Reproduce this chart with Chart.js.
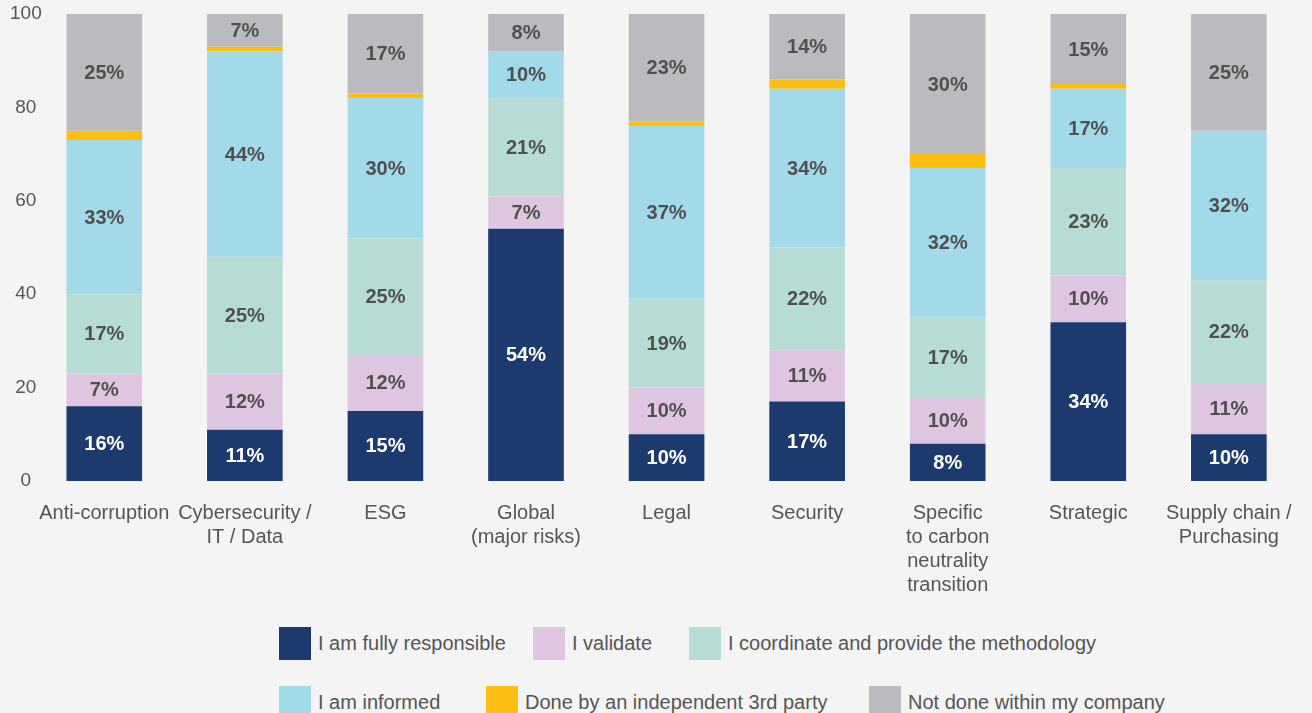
<!DOCTYPE html>
<html><head><meta charset="utf-8">
<script src="https://cdn.jsdelivr.net/npm/chart.js@4.4.1/dist/chart.umd.min.js"></script>
<style>
html,body{margin:0;padding:0;background:#f4f4f4;width:1312px;height:713px;overflow:hidden;font-family:"Liberation Sans",Arial,Helvetica,sans-serif;}
#wrap{position:relative;width:1312px;height:610px;}
#legend{position:relative;width:1312px;height:103px;}
.li{position:absolute;display:flex;align-items:center;height:33px;font-size:20px;color:#555;white-space:nowrap;}
.li .box{width:32px;height:33px;margin-right:7px;flex:none;}
</style></head><body>
<div id="wrap"><canvas id="c" width="1312" height="610"></canvas></div>
<div id="legend"></div>
<script>
const categories = [
  "Anti-corruption",
  ["Cybersecurity /", "IT / Data"],
  "ESG",
  ["Global", "(major risks)"],
  "Legal",
  "Security",
  ["Specific", "to carbon", "neutrality", "transition"],
  "Strategic",
  ["Supply chain /", "Purchasing"]
];
const seriesNames = [
  "I am fully responsible",
  "I validate",
  "I coordinate and provide the methodology",
  "I am informed",
  "Done by an independent 3rd party",
  "Not done within my company"
];
const fullyResponsible = [16, 11, 15, 54, 10, 17, 8, 34, 10];
const validate         = [7, 12, 12, 7, 10, 11, 10, 10, 11];
const coordinate       = [17, 25, 25, 21, 19, 22, 17, 23, 22];
const informed         = [33, 44, 30, 10, 37, 34, 32, 17, 32];
const thirdParty       = [2, 1, 1, 0, 1, 2, 3, 1, 0];
const notDone          = [25, 7, 17, 8, 23, 14, 30, 15, 25];
const yTicks = [0, 20, 40, 60, 80, 100];

const seriesValues = [fullyResponsible, validate, coordinate, informed, thirdParty, notDone];
const colors = ["#1d3a6e", "#dec6e0", "#b6dcd5", "#a2dae9", "#fcbe12", "#bbbbbf"];
const valueColors = ["#ffffff", "#505050", "#505050", "#505050", null, "#505050"];

const datasets = seriesNames.map((name, i) => ({
  label: name,
  data: seriesValues[i],
  backgroundColor: colors[i],
  borderWidth: 0,
  barPercentage: 0.538,
  categoryPercentage: 1.0
}));

const labelPlugin = {
  id: 'segLabels',
  afterDatasetsDraw(chart) {
    const ctx = chart.ctx;
    ctx.save();
    ctx.font = 'bold 20px "Liberation Sans", Arial, sans-serif';
    ctx.textAlign = 'center';
    ctx.textBaseline = 'middle';
    chart.data.datasets.forEach((ds, di) => {
      const col = valueColors[di];
      if (!col) return;
      const meta = chart.getDatasetMeta(di);
      meta.data.forEach((bar, i) => {
        const v = ds.data[i];
        if (!v) return;
        const p = bar.getProps(['x', 'y', 'base'], true);
        ctx.fillStyle = col;
        ctx.fillText(v + '%', p.x, (p.y + p.base) / 2 + 1);
      });
    });
    ctx.restore();
  }
};

const chart = new Chart(document.getElementById('c'), {
  type: 'bar',
  data: { labels: categories, datasets },
  plugins: [labelPlugin],
  options: {
    responsive: false,
    animation: false,
    devicePixelRatio: 1,
    layout: { padding: { top: 14, right: 6, bottom: 0, left: 0 } },
    plugins: { legend: { display: false }, tooltip: { enabled: false } },
    scales: {
      x: {
        stacked: true,
        grid: { display: false, drawTicks: false },
        border: { display: false },
        ticks: {
          autoSkip: false, maxRotation: 0, minRotation: 0,
          padding: 20,
          color: '#555555',
          font: { family: '"Liberation Sans", Arial, sans-serif', size: 20, lineHeight: 1.2 }
        },
        afterFit(axis) { axis.height = 129; }
      },
      y: {
        stacked: true,
        min: 0, max: 100,
        afterBuildTicks(axis) { axis.ticks = yTicks.map(v => ({ value: v })); },
        grid: { display: false, drawTicks: false },
        border: { display: false },
        ticks: {
          color: '#555555',
          mirror: true,
          crossAlign: 'center',
          padding: -24,
          font: { family: '"Liberation Sans", Arial, sans-serif', size: 19 }
        },
        afterFit(axis) { axis.width = 34; }
      }
    }
  }
});

// HTML legend built from the chart's datasets
const legendPos = [
  [279, 0], [533, 0], [689, 0],
  [279, 59], [486, 59], [869, 59]
];
const leg = document.getElementById('legend');
chart.data.datasets.forEach((ds, i) => {
  const item = document.createElement('div');
  item.className = 'li';
  item.style.left = legendPos[i][0] + 'px';
  item.style.top = (17 + legendPos[i][1]) + 'px';
  const box = document.createElement('span');
  box.className = 'box';
  box.style.background = ds.backgroundColor;
  const txt = document.createElement('span');
  txt.textContent = ds.label;
  item.appendChild(box);
  item.appendChild(txt);
  leg.appendChild(item);
});
</script>
</body></html>
